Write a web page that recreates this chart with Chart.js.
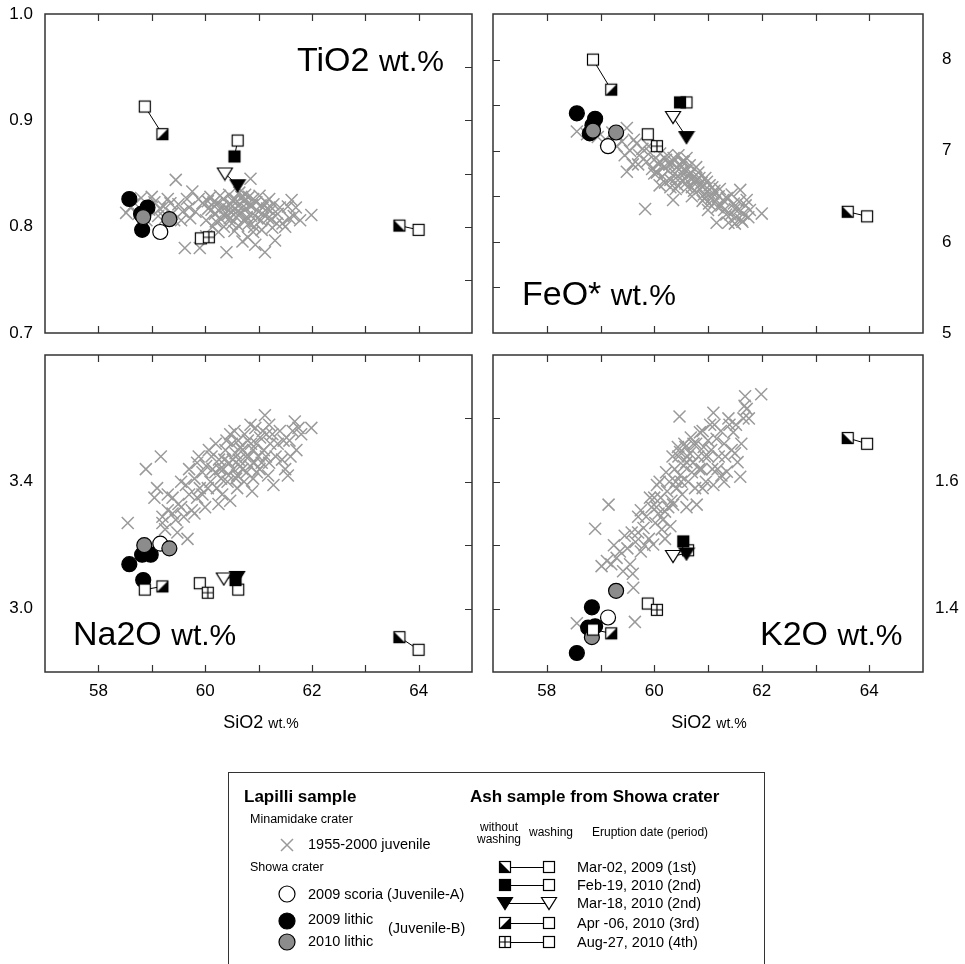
<!DOCTYPE html>
<html>
<head>
<meta charset="utf-8">
<script src="https://cdn.jsdelivr.net/npm/chart.js@4.4.0/dist/chart.umd.min.js"></script>
<style>
  html, body { margin: 0; padding: 0; background: #fff; }
  body { width: 965px; height: 964px; position: relative; overflow: hidden;
         font-family: "Liberation Sans", Arial, sans-serif; color: #000; }
  canvas.panel { position: absolute; }
  .t { position: absolute; white-space: nowrap; line-height: 1; transform: translateY(-50%); }
  .c { transform: translate(-50%, -50%); text-align: center; }
  .title { position: absolute; white-space: nowrap; line-height: 1; font-size: 34px; }
  .title small { font-size: 30px; }
  .axis { position: absolute; white-space: nowrap; line-height: 1; font-size: 18px; transform: translateX(-50%); }
  .axis small { font-size: 14px; }
  #legendBox { position: absolute; left: 228px; top: 772px; width: 535px; height: 210px;
               border: 1.5px solid #333; }
  #legendMarks { position: absolute; left: 228px; top: 772px; }
  .b { font-weight: bold; font-size: 17px; }
  .s { font-size: 12.5px; }
  .m { font-size: 14.5px; }
  .xs { font-size: 12px; }
</style>
</head>
<body>

<canvas id="tiChart" class="panel" style="left:0;top:0" width="482" height="345"></canvas>
<canvas id="feChart" class="panel" style="left:482px;top:0" width="483" height="345"></canvas>
<canvas id="naChart" class="panel" style="left:0;top:345px" width="482" height="395"></canvas>
<canvas id="kChart" class="panel" style="left:482px;top:345px" width="483" height="395"></canvas>

<div class="title" style="left:297px;top:42px">TiO2 <small>wt.%</small></div>
<div class="title" style="left:522px;top:276px">FeO* <small>wt.%</small></div>
<div class="title" style="left:73px;top:616px">Na2O <small>wt.%</small></div>
<div class="title" style="left:760px;top:616px">K2O <small>wt.%</small></div>

<div class="axis" style="left:261px;top:713px">SiO2 <small>wt.%</small></div>
<div class="axis" style="left:709px;top:713px">SiO2 <small>wt.%</small></div>

<div id="legendBox"></div>
<canvas id="legendMarks" width="535" height="192"></canvas>

<div class="t b" style="left:244px;top:796px">Lapilli sample</div>
<div class="t s" style="left:250px;top:819px">Minamidake crater</div>
<div class="t m" style="left:308px;top:844px">1955-2000 juvenile</div>
<div class="t s" style="left:250px;top:867px">Showa crater</div>
<div class="t m" style="left:308px;top:894px">2009 scoria (Juvenile-A)</div>
<div class="t m" style="left:308px;top:919px">2009 lithic</div>
<div class="t m" style="left:308px;top:941px">2010 lithic</div>
<div class="t m" style="left:388px;top:928px">(Juvenile-B)</div>

<div class="t b" style="left:470px;top:796px">Ash sample from Showa crater</div>
<div class="t xs c" style="left:499px;top:827px">without</div>
<div class="t xs c" style="left:499px;top:839px">washing</div>
<div class="t xs c" style="left:551px;top:832px">washing</div>
<div class="t xs" style="left:592px;top:832px">Eruption date (period)</div>
<div id="dateRows"></div>

<script>
// ---- data: SiO2 (x) vs oxide (y), wt.% ----

// ash samples, in the order of ashDates
const ashDates = ['Mar-02, 2009 (1st)', 'Feb-19, 2010 (2nd)', 'Mar-18, 2010 (2nd)', 'Apr -06, 2010 (3rd)', 'Aug-27, 2010 (4th)'];

// TiO2
const tiRaw    = [[63.64, 0.801], [60.55, 0.866], [60.61, 0.839], [59.20, 0.887], [60.07, 0.790]];
const tiWashed = [[64.00, 0.797], [60.61, 0.881], [60.37, 0.850], [58.87, 0.913], [59.92, 0.789]];
const tiScoria = [[59.16, 0.795]];
const tiLithic09 = [[58.58, 0.826], [58.92, 0.818], [58.82, 0.797], [58.80, 0.812]];
const tiLithic10 = [[58.84, 0.809], [59.33, 0.807]];
const tiJuv = [[58.52,0.813],[58.68,0.822],[58.80,0.827],[58.95,0.816],[59.05,0.823],[59.12,0.810],[59.22,0.819],[59.30,0.826],
  [59.38,0.812],[59.45,0.844],[59.50,0.821],[59.55,0.806],[59.62,0.780],[59.66,0.826],[59.76,0.833],[59.82,0.814],[59.90,0.780],
  [59.95,0.822],[60.02,0.806],[60.06,0.817],[60.10,0.828],[60.14,0.800],[60.18,0.812],[60.22,0.822],[60.26,0.815],[60.30,0.807],
  [60.34,0.826],[60.38,0.818],[60.40,0.776],[60.42,0.811],[60.45,0.830],[60.48,0.821],[60.50,0.803],[60.53,0.815],[60.56,0.826],
  [60.58,0.809],[60.62,0.820],[60.64,0.832],[60.66,0.813],[60.70,0.786],[60.72,0.824],[60.74,0.805],[60.77,0.817],[60.80,0.790],
  [60.82,0.828],[60.85,0.845],[60.86,0.810],[60.88,0.820],[60.92,0.800],[60.94,0.783],[60.96,0.823],[61.00,0.814],[61.02,0.829],
  [61.05,0.806],[61.08,0.818],[61.12,0.776],[61.14,0.823],[61.18,0.808],[61.22,0.815],[61.26,0.799],[61.31,0.787],[61.36,0.812],
  [61.45,0.803],[61.50,0.800],[61.55,0.819],[61.62,0.825],[61.66,0.810],[61.78,0.806],[61.99,0.811],[60.25,0.795],[60.35,0.800],
  [60.55,0.796],[60.90,0.795],[60.02,0.791],[59.70,0.818],[59.25,0.808],[58.90,0.806],
  [58.60,0.818],[58.75,0.812],[59.00,0.828],[59.15,0.817],[59.35,0.822],[59.42,0.806],[59.58,0.814],[59.72,0.808],[59.88,0.826],
  [60.05,0.824],[60.12,0.816],[60.20,0.805],[60.28,0.829],[60.32,0.819],[60.36,0.811],[60.44,0.816],[60.52,0.824],[60.60,0.814],
  [60.68,0.828],[60.70,0.818],[60.75,0.830],[60.78,0.809],[60.84,0.820],[60.90,0.826],[60.98,0.808],[61.04,0.820],[61.10,0.811],
  [61.16,0.817],[61.20,0.826],[61.24,0.807],[61.28,0.821],[61.34,0.803],[61.40,0.818],[61.58,0.808],[61.70,0.818],[60.46,0.808],
  [60.62,0.801],[60.82,0.803],[61.06,0.797],[60.16,0.823]];

// FeO*
const feRaw    = [[63.60, 6.33], [60.48, 7.53], [60.60, 7.15], [59.20, 7.67], [60.05, 7.05]];
const feWashed = [[63.96, 6.28], [60.60, 7.53], [60.35, 7.37], [58.86, 8.00], [59.88, 7.18]];
const feScoria = [[59.14, 7.05]];
const feLithic09 = [[58.56, 7.41], [58.90, 7.35], [58.80, 7.19], [58.85, 7.28]];
const feLithic10 = [[58.86, 7.22], [59.29, 7.20]];
const feJuv = [[58.56,7.21],[58.75,7.18],[58.95,7.15],[59.10,7.12],[59.22,7.20],[59.30,7.05],[59.40,7.10],[59.49,7.25],[59.49,6.77],
  [59.55,7.00],[59.62,7.12],[59.67,7.08],[59.72,6.95],[59.78,7.02],[59.83,6.36],[59.86,6.88],[59.92,6.98],[59.96,6.80],[60.00,6.90],
  [60.05,6.76],[60.08,6.85],[60.11,6.97],[60.15,6.72],[60.18,6.82],[60.22,6.90],[60.26,6.78],[60.30,6.68],[60.33,6.86],[60.35,6.46],
  [60.38,6.75],[60.42,6.82],[60.45,6.95],[60.48,6.70],[60.50,6.82],[60.52,6.76],[60.55,6.88],[60.58,6.64],[60.60,6.78],[60.63,6.72],
  [60.66,6.84],[60.70,6.60],[60.72,6.70],[60.76,6.66],[60.79,6.68],[60.82,6.76],[60.85,6.58],[60.88,6.65],[60.92,6.52],[60.95,6.70],
  [61.00,6.55],[61.03,6.62],[61.06,6.48],[61.10,6.53],[61.13,6.44],[61.16,6.21],[61.20,6.50],[61.25,6.40],[61.30,6.35],[61.38,6.21],
  [61.42,6.30],[61.48,6.42],[61.52,6.27],[61.56,6.35],[61.60,6.57],[61.62,6.24],[61.66,6.31],[61.70,6.40],[61.75,6.27],[62.00,6.31],
  [60.10,6.62],[60.40,6.58],[60.90,6.45],[61.35,6.48],[59.60,6.85],
  [59.30,7.18],[59.45,6.95],[59.70,6.85],[59.90,7.05],[60.00,6.75],[60.10,6.88],[60.20,6.65],[60.24,6.95],[60.28,6.85],[60.36,6.92],
  [60.40,6.70],[60.44,6.62],[60.52,6.88],[60.56,6.70],[60.60,6.92],[60.62,6.60],[60.68,6.76],[60.74,6.56],[60.78,6.82],[60.84,6.70],
  [60.90,6.60],[60.94,6.48],[60.98,6.66],[61.02,6.42],[61.08,6.60],[61.12,6.56],[61.18,6.38],[61.22,6.58],[61.28,6.46],[61.34,6.30],
  [61.44,6.52],[61.50,6.36],[61.58,6.44],[61.64,6.22],[61.72,6.46],[61.78,6.35],[61.50,6.20],[61.00,6.35],[60.70,6.50],[60.30,6.60]];

// Na2O
const naRaw    = [[63.64, 2.91], [60.57, 3.09], [60.60, 3.10], [59.20, 3.07], [60.05, 3.05]];
const naWashed = [[64.00, 2.87], [60.62, 3.06], [60.35, 3.095], [58.87, 3.06], [59.90, 3.08]];
const naScoria = [[59.16, 3.205]];
const naLithic09 = [[58.58, 3.14], [58.82, 3.17], [58.98, 3.17], [58.84, 3.09]];
const naLithic10 = [[58.86, 3.20], [59.33, 3.19]];
const naJuv = [[58.55,3.27],[58.89,3.44],[59.17,3.48],[59.05,3.35],[59.67,3.22],[59.20,3.29],[59.20,3.27],[59.30,3.31],[59.39,3.35],
  [59.39,3.30],[59.45,3.28],[59.50,3.33],[59.60,3.29],[59.64,3.39],[59.70,3.36],[59.75,3.31],[59.80,3.41],[59.85,3.35],[59.88,3.48],
  [59.90,3.38],[59.95,3.43],[60.00,3.32],[60.02,3.45],[60.07,3.50],[60.10,3.40],[60.14,3.44],[60.19,3.43],[60.22,3.38],[60.26,3.47],
  [60.30,3.41],[60.34,3.44],[60.38,3.50],[60.42,3.40],[60.45,3.46],[60.47,3.34],[60.47,3.55],[60.50,3.52],[60.53,3.44],[60.57,3.49],
  [60.60,3.42],[60.63,3.47],[60.66,3.51],[60.70,3.44],[60.73,3.40],[60.76,3.48],[60.80,3.53],[60.84,3.45],[60.88,3.37],[60.90,3.50],
  [60.94,3.57],[60.97,3.43],[61.00,3.48],[61.03,3.54],[61.06,3.46],[61.10,3.50],[61.12,3.61],[61.15,3.55],[61.18,3.42],[61.22,3.52],
  [61.28,3.39],[61.32,3.48],[61.40,3.56],[61.47,3.53],[61.50,3.44],[61.55,3.42],[61.60,3.48],[61.68,3.59],[61.71,3.50],[61.75,3.57],
  [61.99,3.57],[61.20,3.58],[60.85,3.58],[60.55,3.56],[59.55,3.32],[59.25,3.25],
  [59.10,3.38],[59.30,3.36],[59.55,3.40],[59.70,3.44],[59.85,3.46],[59.95,3.36],[60.05,3.38],[60.12,3.48],[60.20,3.52],[60.28,3.44],
  [60.32,3.36],[60.36,3.47],[60.40,3.53],[60.44,3.42],[60.52,3.47],[60.58,3.41],[60.62,3.53],[60.66,3.45],[60.70,3.50],[60.74,3.55],
  [60.78,3.43],[60.82,3.48],[60.86,3.52],[60.92,3.46],[60.96,3.52],[61.02,3.44],[61.08,3.56],[61.14,3.48],[61.20,3.46],[61.26,3.55],
  [61.36,3.52],[61.44,3.47],[61.58,3.53],[61.64,3.56],[61.80,3.55],[60.25,3.33],[60.60,3.38],[59.80,3.30],[59.48,3.24],[60.90,3.41]];

// K2O
const kRaw    = [[63.60, 1.669], [60.54, 1.506], [60.60, 1.487], [59.20, 1.361], [60.05, 1.398]];
const kWashed = [[63.96, 1.660], [60.63, 1.492], [60.35, 1.483], [58.86, 1.367], [59.88, 1.408]];
const kScoria = [[59.14, 1.386]];
const kLithic09 = [[58.84, 1.402], [58.77, 1.370], [58.56, 1.330], [58.90, 1.372]];
const kLithic10 = [[59.29, 1.428], [58.84, 1.355]];
const kJuv = [[58.56,1.377],[58.90,1.526],[59.15,1.564],[59.64,1.379],[59.02,1.467],[59.12,1.475],[59.20,1.470],[59.30,1.480],
  [59.36,1.490],[59.42,1.459],[59.50,1.495],[59.55,1.470],[59.61,1.433],[59.65,1.505],[59.70,1.520],[59.75,1.490],[59.80,1.527],
  [59.85,1.545],[59.90,1.510],[59.95,1.560],[59.98,1.501],[60.02,1.535],[60.05,1.595],[60.08,1.550],[60.12,1.575],[60.16,1.540],
  [60.20,1.553],[60.24,1.585],[60.28,1.600],[60.32,1.570],[60.35,1.564],[60.38,1.620],[60.42,1.590],[60.45,1.640],[60.47,1.703],
  [60.48,1.647],[60.48,1.610],[60.52,1.580],[60.55,1.625],[60.58,1.655],[60.60,1.631],[60.63,1.600],[60.66,1.645],[60.70,1.615],
  [60.73,1.660],[60.76,1.590],[60.79,1.564],[60.82,1.640],[60.85,1.678],[60.88,1.620],[60.92,1.655],[60.96,1.600],[61.00,1.640],
  [61.04,1.690],[61.08,1.620],[61.10,1.709],[61.10,1.595],[61.16,1.668],[61.20,1.640],[61.25,1.610],[61.30,1.660],[61.35,1.616],
  [61.40,1.690],[61.47,1.678],[61.50,1.645],[61.55,1.631],[61.60,1.608],[61.66,1.700],[61.69,1.735],[61.72,1.715],[61.99,1.738],
  [60.30,1.530],[60.00,1.575],[59.60,1.455],
  [59.25,1.500],[59.45,1.515],[59.70,1.545],[59.82,1.500],[59.92,1.575],[60.04,1.560],[60.10,1.600],[60.14,1.525],[60.22,1.615],
  [60.26,1.560],[60.34,1.640],[60.40,1.600],[60.44,1.655],[60.50,1.600],[60.56,1.660],[60.62,1.640],[60.68,1.670],[60.72,1.630],
  [60.78,1.660],[60.84,1.620],[60.90,1.680],[60.94,1.640],[61.00,1.665],[61.06,1.650],[61.12,1.690],[61.18,1.620],[61.24,1.680],
  [61.32,1.640],[61.38,1.700],[61.44,1.650],[61.52,1.690],[61.62,1.660],[61.68,1.720],[61.76,1.700],[60.60,1.560],[60.90,1.590],
  [60.20,1.510],[59.75,1.555],[59.58,1.520],[61.30,1.600]];

// tick labels
const siLabels = [58, 60, 62, 64];
const tiLabels = [0.7, 0.8, 0.9, 1.0];
const feLabels = [5, 6, 7, 8];
const naLabels = [3.0, 3.4];
const kLabels  = [1.4, 1.6];

// ---- markers ----
const JUV_GREY = '#9a9a9a';
const LITHIC_GREY = '#8c8c8c';

function squareMarker(kind) {
  const c = document.createElement('canvas');
  c.width = 16; c.height = 16;
  const g = c.getContext('2d');
  g.fillStyle = kind === 'full' ? '#000' : '#fff';
  g.fillRect(2, 2, 12, 12);
  g.fillStyle = '#000';
  if (kind === 'lowerLeft') {
    g.beginPath(); g.moveTo(2, 2); g.lineTo(2, 14); g.lineTo(14, 14); g.closePath(); g.fill();
  } else if (kind === 'lowerRight') {
    g.beginPath(); g.moveTo(14, 2); g.lineTo(14, 14); g.lineTo(2, 14); g.closePath(); g.fill();
  }
  g.strokeStyle = '#000';
  g.lineWidth = 1.2;
  g.strokeRect(2.5, 2.5, 11, 11);
  if (kind === 'grid') {
    g.beginPath();
    g.moveTo(8, 2.5); g.lineTo(8, 13.5);
    g.moveTo(2.5, 8); g.lineTo(13.5, 8);
    g.stroke();
  }
  return c;
}

function triangleMarker(filled) {
  const c = document.createElement('canvas');
  c.width = 18; c.height = 16;
  const g = c.getContext('2d');
  g.beginPath(); g.moveTo(1.5, 2.5); g.lineTo(16.5, 2.5); g.lineTo(9, 14.5); g.closePath();
  g.fillStyle = filled ? '#000' : '#fff';
  g.fill();
  g.strokeStyle = '#000'; g.lineWidth = 1.2; g.stroke();
  return c;
}

const openSquare = squareMarker('open');
const rawStyles  = [squareMarker('lowerLeft'), squareMarker('full'), triangleMarker(true), squareMarker('lowerRight'), squareMarker('grid')];
const washStyles = [openSquare, openSquare, triangleMarker(false), openSquare, openSquare];

// ---- frame with inward ticks ----
const frameTicks = {
  id: 'frameTicks',
  afterDatasetsDraw(chart, args, opts) {
    const { ctx, chartArea: a, scales: { x, y } } = chart;
    const len = 7;
    ctx.save();
    ctx.strokeStyle = '#333';
    ctx.lineWidth = 1.2;
    ctx.beginPath();
    x.ticks.forEach(t => {
      if (t.value <= x.min || t.value >= x.max) return;
      const px = Math.round(x.getPixelForValue(t.value)) + 0.5;
      ctx.moveTo(px, a.top); ctx.lineTo(px, a.top + len);
      ctx.moveTo(px, a.bottom); ctx.lineTo(px, a.bottom - len);
    });
    y.ticks.forEach(t => {
      if (t.value <= y.min + 1e-9 || t.value >= y.max - 1e-9) return;
      const py = Math.round(y.getPixelForValue(t.value)) + 0.5;
      if (opts.side === 'left') { ctx.moveTo(a.right, py); ctx.lineTo(a.right - len, py); }
      else { ctx.moveTo(a.left, py); ctx.lineTo(a.left + len, py); }
    });
    ctx.stroke();
    ctx.lineWidth = 1.5;
    ctx.strokeRect(a.left, a.top, a.right - a.left, a.bottom - a.top);
    ctx.restore();
  }
};

Chart.defaults.font.family = '"Liberation Sans", Arial, sans-serif';
Chart.defaults.color = '#000';

const pt = p => ({ x: p[0], y: p[1] });
const hasLabel = (list, v) => list.some(l => Math.abs(l - v) < 1e-6);

function makePanel(id, cfg) {
  const datasets = [];
  // thin tie line between each unwashed / washed pair
  cfg.raw.forEach((p, i) => {
    datasets.push({ data: [pt(p), pt(cfg.washed[i])], showLine: true, borderColor: '#000',
                    borderWidth: 1, pointRadius: 0, order: 3 });
  });
  datasets.push({ data: cfg.raw.map(pt), pointStyle: rawStyles, pointRadius: 6, order: 1 });
  datasets.push({ data: cfg.washed.map(pt), pointStyle: washStyles, pointRadius: 6, order: 2 });
  datasets.push({ data: cfg.lithic10.map(pt), pointStyle: 'circle', pointRadius: 7.5,
                  pointBackgroundColor: LITHIC_GREY, pointBorderColor: '#000', pointBorderWidth: 1.2, order: 4 });
  datasets.push({ data: cfg.scoria.map(pt), pointStyle: 'circle', pointRadius: 7.5,
                  pointBackgroundColor: '#fff', pointBorderColor: '#000', pointBorderWidth: 1.2, order: 5 });
  datasets.push({ data: cfg.lithic09.map(pt), pointStyle: 'circle', pointRadius: 7.5,
                  pointBackgroundColor: '#000', pointBorderColor: '#000', pointBorderWidth: 1.2, order: 6 });
  datasets.push({ data: cfg.juv.map(pt), pointStyle: 'crossRot', pointRadius: 8.5,
                  pointBorderColor: JUV_GREY, pointBorderWidth: 1.5, order: 7 });

  new Chart(document.getElementById(id), {
    type: 'scatter',
    data: { datasets },
    options: {
      responsive: false,
      animation: false,
      events: [],
      layout: { padding: cfg.padding },
      plugins: { legend: { display: false }, tooltip: { enabled: false }, frameTicks: { side: cfg.side } },
      scales: {
        x: {
          type: 'linear', min: 57, max: 65,
          grid: { display: false, drawTicks: false }, border: { display: false },
          ticks: { stepSize: 1, autoSkip: false, maxRotation: 0, display: cfg.xTicks, padding: 9,
                   font: { size: 17 }, callback: v => hasLabel(siLabels, v) ? String(v) : '' },
          afterFit: s => { s.height = cfg.xHeight; s.paddingLeft = 0; s.paddingRight = 0; }
        },
        y: {
          type: 'linear', position: cfg.side, min: cfg.yMin, max: cfg.yMax,
          grid: { display: false, drawTicks: false }, border: { display: false },
          ticks: { stepSize: cfg.yStep, autoSkip: false, padding: cfg.yPad, font: { size: 17 },
                   callback: v => hasLabel(cfg.yLabels, v) ? v.toFixed(cfg.digits) : '' },
          afterFit: s => { s.width = cfg.yWidth; s.paddingTop = 0; s.paddingBottom = 0; }
        }
      }
    },
    plugins: [frameTicks]
  });
}

makePanel('tiChart', { raw: tiRaw, washed: tiWashed, scoria: tiScoria, lithic09: tiLithic09, lithic10: tiLithic10, juv: tiJuv,
  side: 'left', yMin: 0.7, yMax: 1.0, yStep: 0.05, yLabels: tiLabels, digits: 1, yPad: 12, yWidth: 45,
  xTicks: false, xHeight: 12, padding: { top: 14, right: 7, left: 0, bottom: 0 } });
makePanel('feChart', { raw: feRaw, washed: feWashed, scoria: feScoria, lithic09: feLithic09, lithic10: feLithic10, juv: feJuv,
  side: 'right', yMin: 5, yMax: 8.5, yStep: 0.5, yLabels: feLabels, digits: 0, yPad: 19, yWidth: 42,
  xTicks: false, xHeight: 12, padding: { top: 14, right: 0, left: 11, bottom: 0 } });
makePanel('naChart', { raw: naRaw, washed: naWashed, scoria: naScoria, lithic09: naLithic09, lithic10: naLithic10, juv: naJuv,
  side: 'left', yMin: 2.8, yMax: 3.8, yStep: 0.2, yLabels: naLabels, digits: 1, yPad: 12, yWidth: 45,
  xTicks: true, xHeight: 68, padding: { top: 4, right: 7, left: 0, bottom: 0 } });
makePanel('kChart', { raw: kRaw, washed: kWashed, scoria: kScoria, lithic09: kLithic09, lithic10: kLithic10, juv: kJuv,
  side: 'right', yMin: 1.3, yMax: 1.8, yStep: 0.1, yLabels: kLabels, digits: 1, yPad: 12, yWidth: 42,
  xTicks: true, xHeight: 68, padding: { top: 4, right: 0, left: 11, bottom: 0 } });

// ---- legend ----
(function drawLegend() {
  const g = document.getElementById('legendMarks').getContext('2d');
  const circle = (x, y, fill) => {
    g.beginPath(); g.arc(x, y, 8, 0, Math.PI * 2);
    g.fillStyle = fill; g.fill();
    g.strokeStyle = '#000'; g.lineWidth = 1.2; g.stroke();
  };
  // juvenile cross
  g.strokeStyle = JUV_GREY; g.lineWidth = 1.5;
  g.beginPath();
  g.moveTo(53, 67); g.lineTo(65, 79);
  g.moveTo(65, 67); g.lineTo(53, 79);
  g.stroke();
  circle(59, 122, '#fff');
  circle(59, 149, '#000');
  circle(59, 170, LITHIC_GREY);

  const rowY = [95, 113, 131, 151, 170];
  rowY.forEach((y, i) => {
    g.strokeStyle = '#000'; g.lineWidth = 1;
    g.beginPath(); g.moveTo(277, y + 0.5); g.lineTo(321, y + 0.5); g.stroke();
    const a = rawStyles[i], b = washStyles[i];
    g.drawImage(a, 277 - a.width / 2, y - a.height / 2);
    g.drawImage(b, 321 - b.width / 2, y - b.height / 2);
  });

  const rows = document.getElementById('dateRows');
  const pageY = [867, 885, 903, 923, 942];
  ashDates.forEach((d, i) => {
    const el = document.createElement('div');
    el.className = 't m';
    el.style.left = '577px';
    el.style.top = pageY[i] + 'px';
    el.textContent = d;
    rows.appendChild(el);
  });
})();
</script>
</body>
</html>
